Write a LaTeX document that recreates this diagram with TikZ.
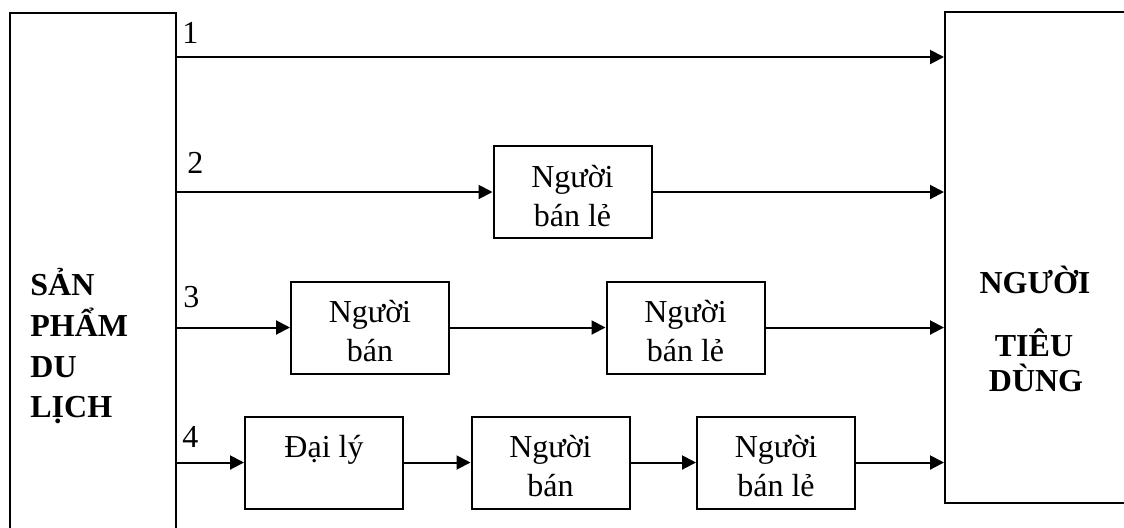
\documentclass[tikz,border=0pt]{standalone}
\usepackage{fontspec}
\setmainfont{Liberation Serif}
\usetikzlibrary{arrows.meta}
\newcommand{\topstrut}{\rule{0pt}{20.5pt}}
\newcommand{\botstrut}{\rule[-6pt]{0pt}{6pt}}
\begin{document}
\begin{tikzpicture}[x=0.5pt,y=-0.5pt,
  frame/.style={draw,line width=1pt,inner sep=0pt},
  box/.style={draw,line width=1pt,minimum width=79pt,minimum height=45pt,inner sep=0pt,align=center,font=\fontsize{16}{19.5}\selectfont},
  arr/.style={line width=1pt,-{Triangle[length=7pt,width=7pt]}},
  num/.style={anchor=base west,inner sep=0pt,font=\fontsize{16}{19}\selectfont},
  bigl/.style={anchor=base west,inner sep=0pt,font=\fontsize{16}{19}\selectfont\bfseries},
  bigc/.style={anchor=base,inner sep=0pt,font=\fontsize{16}{19}\selectfont\bfseries}]
\useasboundingbox (0,0) rectangle (1124,527);
\clip (0,0) rectangle (1124,527);
% big boxes
\node[frame,minimum width=83pt,minimum height=287pt] (src) at (93,300) {};
\node[frame,minimum width=127.5pt,minimum height=245.5pt] (dst) at (1072.5,257.5) {};
% texts in big boxes
\node[bigl] (s1) at (30,295) {SẢN};
\node[bigl] (s2) at (30,336) {PHẨM};
\node[bigl] (s3) at (30,377) {DU};
\node[bigl] (s4) at (30,417) {LỊCH};
\node[bigc] (d1) at (1035,293) {NGƯỜI};
\node[bigc] (d2) at (1034,356) {TIÊU};
\node[bigc] (d3) at (1036,391) {DÙNG};
% intermediate boxes
\node[box] (b2) at (572.5,192) {\topstrut Người\\bán lẻ\botstrut};
\node[box] (b3a) at (370,327.5) {\topstrut Người\\bán\botstrut};
\node[box] (b3b) at (685.5,327.5) {\topstrut Người\\bán lẻ\botstrut};
\node[box] (b4a) at (324,462.5) {\topstrut Đại lý\\\botstrut};
\node[box] (b4b) at (550.5,462.5) {\topstrut Người\\bán\botstrut};
\node[box] (b4c) at (776,462.5) {\topstrut Người\\bán lẻ\botstrut};
% route numbers
\node[num] (n1) at (182,43) {1};
\node[num] (n2) at (187,173) {2};
\node[num] (n3) at (183,307) {3};
\node[num] (n4) at (182,447) {4};
% connectors
\coordinate (r1) at (0,57);
\draw[arr] (src.east |- r1) -- (dst.west |- r1);
\draw[arr] (src.east |- b2) -- (b2.west);
\draw[arr] (b2.east) -- (dst.west |- b2);
\draw[arr] (src.east |- b3a) -- (b3a.west);
\draw[arr] (b3a.east) -- (b3b.west);
\draw[arr] (b3b.east) -- (dst.west |- b3b);
\draw[arr] (src.east |- b4a) -- (b4a.west);
\draw[arr] (b4a.east) -- (b4b.west);
\draw[arr] (b4b.east) -- (b4c.west);
\draw[arr] (b4c.east) -- (dst.west |- b4c);
\end{tikzpicture}
\end{document}
